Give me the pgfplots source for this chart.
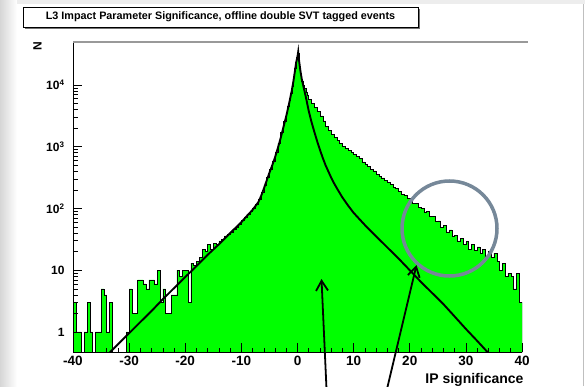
\documentclass[border=0pt]{standalone}
\usepackage{pgfplots}
\pgfplotsset{compat=1.18}
\usepackage{pgfplotstable}
\usepackage{fontspec}
\setmainfont{Liberation Sans}
\usetikzlibrary{arrows.meta}
\definecolor{histgreen}{RGB}{0,255,0}
\definecolor{markgray}{RGB}{118,136,153}
\newcommand\tp[1]{10\textsuperscript{#1}}

% IP significance histogram: left bin edge and entries
\pgfplotstableread{
x N
-40.0 3
-39.5 1
-39.0 1
-38.5 0
-38.0 1
-37.5 3
-37.0 1
-36.5 0
-36.0 1
-35.5 1
-35.0 5
-34.5 4
-34.0 1
-33.5 3
-33.0 0
-32.5 0
-32.0 0
-31.5 0
-31.0 0
-30.5 1
-30.0 5
-29.5 2
-29.0 2
-28.5 7
-28.0 7
-27.5 6
-27.0 5
-26.5 7
-26.0 7
-25.5 6
-25.0 10
-24.5 3
-24.0 5
-23.5 2
-23.0 2
-22.5 4
-22.0 4
-21.5 10
-21.0 8
-20.5 10
-20.0 10
-19.5 3
-19.0 13
-18.5 12
-18.0 14
-17.5 16
-17.0 22
-16.5 20
-16.0 26
-15.5 22
-15.0 27
-14.5 26
-14.0 30
-13.5 32
-13.0 36
-12.5 38
-12.0 42
-11.5 46
-11.0 50
-10.5 56
-10.0 64
-9.5 72
-9.0 80
-8.5 90
-8.0 102
-7.5 117
-7.0 140
-6.5 180
-6.0 240
-5.5 325
-5.0 435
-4.5 580
-4.0 800
-3.5 1140
-3.0 1700
-2.5 2570
-2.0 3550
-1.75 4470
-1.5 5620
-1.25 7240
-1.0 9550
-0.75 13200
-0.5 19000
-0.25 28000
0.0 33000
0.25 20000
0.5 14800
0.75 11500
1.0 9800
1.25 8700
1.5 7760
1.75 6900
2.0 5890
2.5 5010
3.0 4370
3.5 3720
4.0 3160
4.5 2630
5.0 2140
5.5 1820
6.0 1580
6.5 1410
7.0 1260
7.5 1120
8.0 1020
8.5 933
9.0 871
9.5 813
10.0 760
10.5 690
11.0 640
11.5 570
12.0 520
12.5 485
13.0 430
13.5 405
14.0 360
14.5 335
15.0 312
15.5 283
16.0 262
16.5 245
17.0 222
17.5 210
18.0 190
18.5 170
19.0 165
19.5 146
20.0 140
20.5 122
21.0 120
21.5 104
22.0 101
22.5 88
23.0 90
23.5 74
24.0 75
24.5 62
25.0 63
25.5 50
26.0 54
26.5 42
27.0 45
27.5 35
28.0 37
28.5 30
29.0 33
29.5 26
30.0 29
30.5 22
31.0 26
31.5 21
32.0 24
32.5 19
33.0 22
33.5 17
34.0 20
34.5 16
35.0 19
35.5 14
36.0 10
36.5 13
37.0 8
37.5 9
38.0 8
38.5 5
39.0 9
39.5 3
40.0 3
}\ipsig

% fitted resolution function
\pgfplotstableread{
x N
-34 0.417
-32 0.63
-30 0.955
-28 1.45
-26 2.19
-24 3.39
-22 5.13
-20 7.76
-18 11.7
-16 17.8
-14 26.3
-12 40
-11 49
-10 60
-9 76
-8 95
-7 126
-6.5 158
-6 209
-5.5 282
-5 380
-4.5 501
-4 676
-3.5 955
-3 1380
-2.5 2090
-2 3160
-1.5 5000
-1 8300
-0.75 11200
-0.5 15850
-0.25 22900
0 29000
0.125 34500
0.25 26000
0.5 17400
0.75 12600
1 10000
1.5 6310
2 3800
2.5 2510
3 1740
3.5 1230
4 891
4.5 661
5 501
5.5 398
6 316
6.5 257
7 214
8 151
9 112
10 85
12 54
14 35.5
16 23.4
18 15.5
20 10
22 6.46
24 4.27
26 2.82
28 1.78
30 1.12
32 0.72
34 0.457
}\ipfit

\begin{document}
\begin{tikzpicture}[x=1pt,y=1pt]
\path[use as bounding box] (0,0) rectangle (585,386);
\fill[white] (0,0) rectangle (585,386);
\shade[left color=black!16, right color=white] (0,0) rectangle (17,386);
\fill[black!7] (17,382) rectangle (585,386);
\draw[black!25, line width=1pt] (583,0) -- (583,382);

% title pave with shadow
\fill[black!55] (25,356.5) rectangle (420,377);
\draw[black, line width=0.6pt, fill=white] (23,359) rectangle (418,379);
\node[font=\fontsize{10.8}{12}\selectfont\bfseries] at (220.5,369)
  {L3 Impact Parameter Significance, offline double SVT tagged events};

\begin{axis}[
  at={(73pt,34pt)}, anchor=south west, scale only axis,
  width=449pt, height=310pt,
  xmin=-40, xmax=40, ymode=log, ymin=0.474, ymax=49700,
  log origin y=infty,
  axis on top,
  axis x line*=bottom, axis y line*=left,
  axis line style={line width=0.8pt},
  xtick={-40,-30,...,40}, minor x tick num=4,
  xticklabels={-40,-30,-20,-10,0,10,20,30,40},
  ytick={1,10,100,1000,10000},
  yticklabels={1,10,\tp{2},\tp{3},\tp{4}},
  tick align=inside, major tick length=9pt, minor tick length=4.5pt,
  tick style={black, line width=0.6pt},
  xticklabel style={font=\fontsize{13.5}{14}\selectfont\bfseries, yshift=-1pt},
  yticklabel style={font=\fontsize{12}{13}\selectfont\bfseries, xshift=-5pt},
]
\addplot[const plot, fill=histgreen, draw=black, line width=0.5pt]
  table[x=x, y expr={max(\thisrow{N},0.05)}] {\ipsig} \closedcycle;
\addplot[black, line width=1.9pt] table[x=x, y=N] {\ipfit};
\end{axis}

\draw[black!40, line width=1.3pt] (73,344) -- (528,344);
\node[rotate=90, font=\fontsize{12}{13}\selectfont\bfseries] at (37.5,339.5) {N};
\node[anchor=base east, font=\fontsize{14}{15}\selectfont\bfseries] at (527,2.5) {IP significance};

% annotations
\draw[markgray, line width=3.5pt] (449.5,157.5) circle (47.5);
\draw[black, line width=1.8pt, -{Straight Barb[length=10pt, width=12pt, line width=1.8pt]}]
  (326.5,-3) -- (321.5,107);
\draw[black, line width=1.8pt, -{Straight Barb[length=10pt, width=12pt, line width=1.8pt]}]
  (387,-3) -- (416.5,121);
\end{tikzpicture}
\end{document}
